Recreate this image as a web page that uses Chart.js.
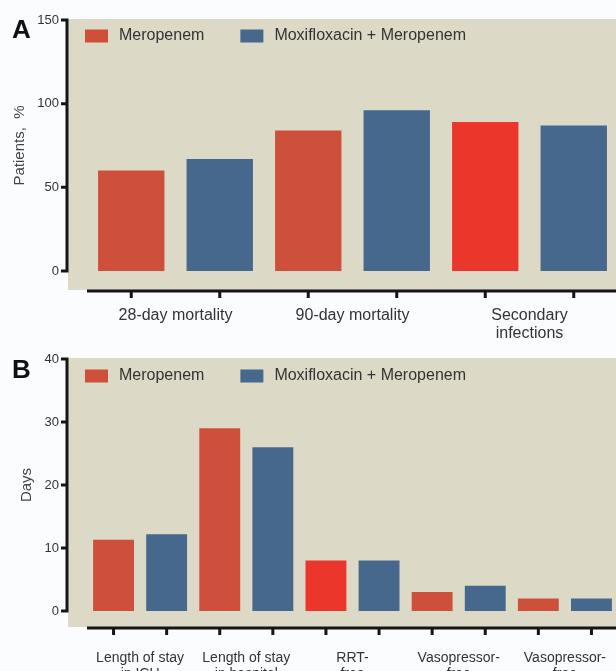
<!DOCTYPE html>
<html>
<head>
<meta charset="utf-8">
<script src="https://cdn.jsdelivr.net/npm/chart.js@4.4.0/dist/chart.umd.min.js"></script>
<style>
    body { margin: 0; background: #fbfcfd; width: 616px; height: 671px; overflow: hidden; position: relative;
        font-family: "Liberation Sans", Arial, sans-serif; }
    .panel { position: absolute; left: 0; width: 616px; overflow: hidden; }
    #panelA { top: 0; height: 345px; }
    #panelB { top: 345px; height: 326px; }
    .letter { position: absolute; left: 12px; font-weight: bold; font-size: 26px; line-height: 26px; color: #111; }
</style>
</head>
<body>
<div class="panel" id="panelA"><canvas id="js--chart--A" width="640" height="345"></canvas></div>
<div class="panel" id="panelB"><canvas id="js--chart--B" width="640" height="326"></canvas></div>
<div class="letter" style="top:16px">A</div>
<div class="letter" style="top:356px">B</div>
<script>
// panel A
const labelsA = [["28-day mortality"], ["90-day mortality"], ["Secondary", "infections"]];
const meropenemA = [60, 84, 89];
const moxiA = [67, 96, 87];
const ticksA = [0, 50, 100, 150];

// panel B
const labelsB = [["Length of stay", "in ICU"], ["Length of stay", "in hospital"], ["RRT-", "free"],
    ["Vasopressor-", "free"], ["Vasopressor-", "free"]];
const meropenemB = [11.3, 29, 8, 3, 2];
const moxiB = [12.2, 26, 8, 4, 2];
const ticksB = [0, 10, 20, 30, 40];

const seriesNames = ["Meropenem", "Moxifloxacin + Meropenem"];

const RED = '#cf503a';
const BRIGHT = '#eb372b';
const BLUE = '#46688c';
const BEIGE = '#dcd9c7';

Chart.defaults.font.family = '"Liberation Sans", Arial, sans-serif';
Chart.defaults.color = '#333';

// prism style: beige box, detached axes, legend inside the plot
const prismPlugin = {
    id: 'prism',
    beforeDraw(chart, args, opts) {
        const ctx = chart.ctx, a = chart.chartArea;
        ctx.save();
        ctx.fillStyle = BEIGE;
        ctx.fillRect(a.left - 19, a.top - 1, chart.width, a.bottom - a.top + 1 + opts.gap);
        ctx.restore();
    },
    afterDraw(chart, args, opts) {
        const ctx = chart.ctx, a = chart.chartArea, y = chart.scales.y;
        ctx.save();
        ctx.strokeStyle = '#151515';
        ctx.lineWidth = 3;
        const ax = a.left - 20;
        ctx.beginPath();
        ctx.moveTo(ax, y.getPixelForValue(y.max) - 1.5);
        ctx.lineTo(ax, y.getPixelForValue(0) + 1.5);
        y.ticks.forEach(t => {
            const py = y.getPixelForValue(t.value);
            ctx.moveTo(ax - 6, py);
            ctx.lineTo(ax, py);
        });
        ctx.stroke();

        const bx = a.bottom + opts.gap + 1;
        ctx.beginPath();
        ctx.moveTo(a.left, bx);
        ctx.lineTo(chart.width, bx);
        chart.data.datasets.forEach((ds, i) => {
            chart.getDatasetMeta(i).data.forEach(bar => {
                ctx.moveTo(bar.x, bx);
                ctx.lineTo(bar.x, bx + 7);
            });
        });
        ctx.stroke();

        // legend
        ctx.font = '16px "Liberation Sans", Arial, sans-serif';
        ctx.textBaseline = 'middle';
        let lx = a.left - 2;
        const ly = a.top + opts.legendY;
        chart.data.datasets.forEach(ds => {
            ctx.fillStyle = ds.legendColor;
            ctx.fillRect(lx, ly - 6.5, 23, 13);
            ctx.fillStyle = '#333';
            ctx.fillText(ds.label, lx + 34, ly);
            lx = lx + 34 + ctx.measureText(ds.label).width + 36;
        });
        ctx.restore();
    }
};

function makeConfig(labels, mero, moxi, yMax, step, title, opts) {
    return {
        type: 'bar',
        data: {
            labels: labels,
            datasets: [
                {
                    label: seriesNames[0],
                    data: mero,
                    legendColor: RED,
                    backgroundColor: mero.map((v, i) => i === 2 ? BRIGHT : RED),
                },
                {
                    label: seriesNames[1],
                    data: moxi,
                    legendColor: BLUE,
                    backgroundColor: BLUE,
                }
            ]
        },
        options: {
            responsive: false,
            animation: false,
            devicePixelRatio: 1,
            layout: { padding: { top: opts.top, right: 22, left: 0, bottom: 0 } },
            datasets: { bar: { categoryPercentage: 1, barPercentage: opts.barPct } },
            plugins: {
                legend: { display: false },
                tooltip: { enabled: false },
                prism: { gap: opts.gap, legendY: opts.legendY },
            },
            scales: {
                x: {
                    grid: { display: false, drawTicks: false },
                    border: { display: false },
                    ticks: { font: { size: opts.xFont, lineHeight: 1.15 }, color: '#333', padding: opts.xPad,
                        maxRotation: 0, autoSkip: false },
                    afterFit: s => {
                        s.height = opts.xHeight;
                        s.paddingLeft = 0;
                        s.paddingRight = 0;
                    }
                },
                y: {
                    min: 0,
                    max: yMax,
                    grid: { display: false, drawTicks: false },
                    border: { display: false },
                    ticks: { stepSize: step, font: { size: 13 }, color: '#333', padding: 28 },
                    title: { display: true, text: title, font: { size: 15 }, color: '#444',
                        padding: { top: opts.titlePad, bottom: 0 } },
                    afterFit: s => {
                        s.width = 87;
                        s.paddingTop = 8;
                        s.paddingBottom = 8;
                    }
                }
            }
        },
        plugins: [prismPlugin]
    };
}

const chartA = new Chart(document.getElementById("js--chart--A"),
    makeConfig(labelsA, meropenemA, moxiA, ticksA[ticksA.length - 1], ticksA[1] - ticksA[0], "Patients,  %",
        { top: 20, xHeight: 74, xPad: 35, xFont: 16, gap: 19, legendY: 16, barPct: 0.75, titlePad: 11 }));

const chartB = new Chart(document.getElementById("js--chart--B"),
    makeConfig(labelsB, meropenemB, moxiB, ticksB[ticksB.length - 1], ticksB[1] - ticksB[0], "Days",
        { top: 14, xHeight: 60, xPad: 39, xFont: 14, gap: 16, legendY: 17, barPct: 0.77, titlePad: 18 }));
</script>
</body>
</html>
